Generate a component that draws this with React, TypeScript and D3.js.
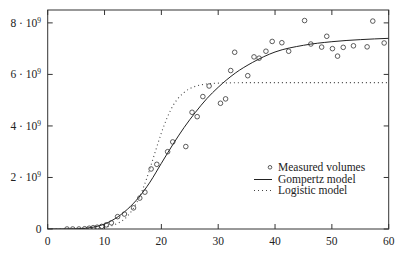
import React from 'react';
import * as d3 from 'd3';

// measured tumour volumes (day, volume / 1e9)
const measuredDays = [3.4, 4.4, 5.5, 6.5, 7.3, 8.0, 8.7, 9.5, 10.3, 11.2, 12.3, 13.5, 15.1, 16.2, 17.1, 18.2, 19.2, 21.1, 22.0, 24.3, 25.4, 26.3, 27.3, 28.4, 30.4, 31.3, 32.2, 32.9, 35.2, 36.3, 37.2, 38.4, 39.5, 41.2, 42.4, 45.2, 46.3, 48.2, 49.1, 50.1, 51.0, 52.0, 53.8, 56.2, 57.2, 59.2];
const measuredVolumes = [0, 0, 0, 0.01, 0.03, 0.05, 0.07, 0.1, 0.16, 0.24, 0.48, 0.58, 0.82, 1.2, 1.43, 2.33, 2.51, 3.0, 3.38, 3.2, 4.53, 4.36, 5.14, 5.55, 4.88, 5.05, 6.15, 6.86, 5.95, 6.68, 6.63, 6.9, 7.28, 7.23, 6.9, 8.09, 7.18, 7.06, 7.48, 7.0, 6.71, 7.05, 7.11, 7.07, 8.07, 7.22];

// model curves
const gompertzDays = [0, 4, 6, 8, 10, 12, 14, 16, 18, 20, 22, 24, 26, 28, 30, 33, 36, 40, 45, 50, 55, 60];
const gompertzVolumes = [0, 0.003, 0.018, 0.07, 0.19, 0.42, 0.76, 1.22, 1.82, 2.55, 3.27, 3.94, 4.53, 5.06, 5.5, 6.05, 6.46, 6.87, 7.13, 7.27, 7.35, 7.4];
const logisticDays = [0, 4, 8, 10, 12, 14, 16, 17, 18, 19, 20, 21, 22, 24, 26, 28, 30, 35, 60];
const logisticVolumes = [0, 0.004, 0.027, 0.07, 0.19, 0.49, 1.17, 1.7, 2.35, 3.05, 3.73, 4.31, 4.77, 5.3, 5.54, 5.63, 5.66, 5.68, 5.68];

const xTicks = [0, 10, 20, 30, 40, 50, 60];
const yTicks = [0, 2, 4, 6, 8];
const legendLabels = ['Measured volumes', 'Gompertz model', 'Logistic model'];

const W = 399;
const H = 254;
const left = 47.7, right = 388.7, top = 10, bottom = 229;
const ink = '#333';
const font = '"Liberation Serif", "Times New Roman", serif';

export default function App() {
  const x = d3.scaleLinear().domain([0, 60]).range([left, right]);
  const y = d3.scaleLinear().domain([0, 8.5]).range([bottom, top]);

  const line = d3.line<[number, number]>()
    .x((d) => x(d[0]))
    .y((d) => y(d[1]))
    .curve(d3.curveMonotoneX);

  const gompertz = line(gompertzDays.map((d, i) => [d, gompertzVolumes[i]] as [number, number])) || '';
  const logistic = line(logisticDays.map((d, i) => [d, logisticVolumes[i]] as [number, number])) || '';

  const tl = 5;

  return (
    <svg width={W} height={H} style={{ position: 'absolute', left: 0, top: 0, background: '#fff' }} fontFamily={font}>
      <rect x={0} y={0} width={W} height={H} fill="#fff" />
      <defs>
        <clipPath id="plot">
          <rect x={left} y={top} width={right - left} height={bottom - top} />
        </clipPath>
      </defs>

      {/* frame */}
      <rect x={left} y={top} width={right - left} height={bottom - top} fill="none" stroke={ink} strokeWidth={1} />

      {/* ticks */}
      {xTicks.map((t) => (
        <g key={'x' + t}>
          <line x1={x(t)} x2={x(t)} y1={bottom} y2={bottom - tl} stroke={ink} />
          <line x1={x(t)} x2={x(t)} y1={top} y2={top + tl} stroke={ink} />
          <text x={x(t)} y={245} fontSize={11.5} textAnchor="middle" fill="#222">{t}</text>
        </g>
      ))}
      {yTicks.map((t) => (
        <g key={'y' + t}>
          <line x1={left} x2={left + tl} y1={y(t)} y2={y(t)} stroke={ink} />
          <line x1={right} x2={right - tl} y1={y(t)} y2={y(t)} stroke={ink} />
          {t === 0 ? (
            <text x={41.5} y={y(t) + 4} fontSize={11.5} textAnchor="end" fill="#222">0</text>
          ) : (
            <text x={41} y={y(t) + 4} fontSize={11.5} textAnchor="end" fill="#222">
              {t} · 10<tspan fontSize={7.5} dy={-4}>9</tspan>
            </text>
          )}
        </g>
      ))}

      <g clipPath="url(#plot)">
        <path d={logistic} fill="none" stroke="#444" strokeWidth={1.1} strokeDasharray="1,3" />
        <path d={gompertz} fill="none" stroke="#222" strokeWidth={1} />
        {measuredDays.map((d, i) => (
          <circle key={i} cx={x(d)} cy={y(measuredVolumes[i])} r={2.3} fill="none" stroke="#333" strokeWidth={0.8} />
        ))}
      </g>

      {/* legend */}
      <g fontSize={11.5} fill="#222">
        <circle cx={270} cy={167.3} r={1.8} fill="none" stroke="#333" strokeWidth={0.8} />
        <text x={278} y={171}>{legendLabels[0]}</text>
        <line x1={254} x2={272} y1={179.5} y2={179.5} stroke="#222" />
        <text x={278} y={182.8}>{legendLabels[1]}</text>
        <line x1={254} x2={272} y1={190.5} y2={190.5} stroke="#444" strokeWidth={1.1} strokeDasharray="1,3" />
        <text x={278} y={194.4}>{legendLabels[2]}</text>
      </g>
    </svg>
  );
}
